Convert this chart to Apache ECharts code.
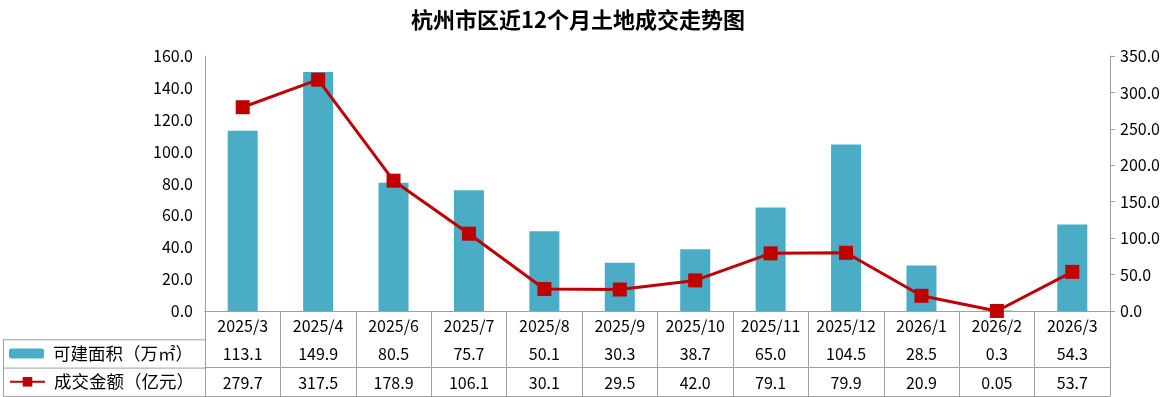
<!DOCTYPE html>
<html><head><meta charset="utf-8">
<script src="https://cdn.jsdelivr.net/npm/echarts@6/dist/echarts.min.js"></script>
<style>html,body{margin:0;padding:0;background:#fff}#c{width:1169px;height:397px}</style>
</head><body><div id="c"></div>
<script>
const categories = ['2025/3','2025/4','2025/6','2025/7','2025/8','2025/9','2025/10','2025/11','2025/12','2026/1','2026/2','2026/3'];
const areaValues = [113.1,149.9,80.5,75.7,50.1,30.3,38.7,65.0,104.5,28.5,0.3,54.3];
const amountValues = [279.7,317.5,178.9,106.1,30.1,29.5,42.0,79.1,79.9,20.9,0.05,53.7];
const areaLabels = ['113.1','149.9','80.5','75.7','50.1','30.3','38.7','65.0','104.5','28.5','0.3','54.3'];
const amountLabels = ['279.7','317.5','178.9','106.1','30.1','29.5','42.0','79.1','79.9','20.9','0.05','53.7'];
const areaName = '可建面积（万㎡）';
const amountName = '成交金额（亿元）';

const FONT = '"Noto Sans CJK SC", "Noto Sans", sans-serif';
const GRAY = '#a0a0a0';
const G = {left: 205, right: 59, top: 56, bottom: 86};
const H = 397, ROW = 28.3;
const yAxis0 = H - G.bottom;
const txt = {color: '#000', fontFamily: FONT, fontSize: 16};
const legTxt = {color: '#000', fontFamily: FONT, fontSize: 17.5, lineHeight: 20, padding: [0, 0, 0, 4]};

const chart = echarts.init(document.getElementById('c'));
const hLine = (y) => ({type: 'line', shape: {x1: 3, y1: y, x2: G.left, y2: y}, style: {stroke: GRAY, lineWidth: 1}, silent: true});
chart.setOption({
  animation: false,
  title: {text: '杭州市区近12个月土地成交走势图', left: 406, top: 4,
    textStyle: {fontFamily: FONT, fontSize: 22, fontWeight: 'bold', color: '#000'}},
  grid: G,
  legend: [
    {data: [areaName], left: 9, top: yAxis0 + ROW * 1.5 - 10, padding: 0, itemWidth: 35, itemHeight: 10,
      textStyle: legTxt, selectedMode: false},
    {data: [amountName], left: 9, top: yAxis0 + ROW * 2.5 - 10, padding: 0, itemWidth: 35, itemHeight: 12,
      textStyle: legTxt, selectedMode: false}
  ],
  xAxis: [
    {type: 'category', data: categories, position: 'bottom',
      axisLine: {show: true, lineStyle: {color: GRAY}},
      axisTick: {show: true, interval: 0, length: ROW * 3, lineStyle: {color: GRAY}},
      axisLabel: Object.assign({interval: 0, margin: 7}, txt)},
    {type: 'category', data: areaLabels, position: 'bottom', offset: ROW,
      axisLine: {show: true, lineStyle: {color: GRAY}}, axisTick: {show: false},
      axisLabel: Object.assign({interval: 0, margin: 7}, txt)},
    {type: 'category', data: amountLabels, position: 'bottom', offset: ROW * 2,
      axisLine: {show: true, lineStyle: {color: GRAY}}, axisTick: {show: false},
      axisLabel: Object.assign({interval: 0, margin: 7}, txt)},
    {type: 'category', data: categories, position: 'bottom', offset: ROW * 3,
      axisLine: {show: true, lineStyle: {color: GRAY}}, axisTick: {show: false},
      axisLabel: {show: false}}
  ],
  yAxis: [
    {type: 'value', min: 0, max: 160, interval: 20, position: 'left',
      axisLine: {show: true, lineStyle: {color: GRAY}}, axisTick: {show: false}, splitLine: {show: false},
      axisLabel: Object.assign({margin: 12, formatter: v => v.toFixed(1)}, txt)},
    {type: 'value', min: 0, max: 350, interval: 50, position: 'right',
      axisLine: {show: true, lineStyle: {color: GRAY}}, axisTick: {show: true, length: 5, lineStyle: {color: GRAY}},
      splitLine: {show: false},
      axisLabel: Object.assign({margin: 10, formatter: v => v.toFixed(1)}, txt)}
  ],
  series: [
    {name: areaName, type: 'bar', data: areaValues, barWidth: 30, itemStyle: {color: '#4BACC6'}},
    {name: amountName, type: 'line', yAxisIndex: 1, data: amountValues, symbol: 'rect', symbolSize: 14,
      lineStyle: {color: '#C00000', width: 3}, itemStyle: {color: '#C00000'}, z: 5}
  ],
  graphic: [
    hLine(yAxis0 + ROW + 0.5), hLine(yAxis0 + ROW * 2 + 0.5), hLine(yAxis0 + ROW * 3 + 0.5),
    {type: 'line', shape: {x1: 3.5, y1: yAxis0 + ROW, x2: 3.5, y2: yAxis0 + ROW * 3}, style: {stroke: GRAY, lineWidth: 1}, silent: true}
  ]
});
</script></body></html>
